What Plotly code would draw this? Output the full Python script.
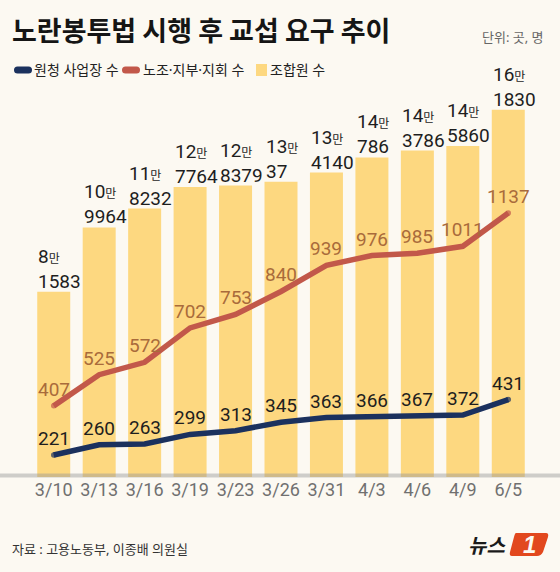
import plotly.graph_objects as go

# ---- data ----
dates = ["3/10", "3/13", "3/16", "3/19", "3/23", "3/26", "3/31", "4/3", "4/6", "4/9", "6/5"]
members = [81583, 109964, 118232, 127764, 128379, 130037, 134140, 140786, 143786, 145860, 161830]
unions = [407, 525, 572, 702, 753, 840, 939, 976, 985, 1011, 1137]
workplaces = [221, 260, 263, 299, 313, 345, 363, 366, 367, 372, 431]

title_text = "노란봉투법 시행 후 교섭 요구 추이"
unit_text = "단위: 곳, 명"
source_text = "자료 : 고용노동부, 이종배 의원실"
legend_names = ["원청 사업장 수", "노조·지부·지회 수", "조합원 수"]

# ---- style ----
W, H = 560, 572
ML, MR, MT, MB = 31, 29, 100, 95
PW, PH = W - ML - MR, H - MT - MB
BG = "#FCF9F2"
BAR = "#FDD880"
RED = "#C2584A"
NAVY = "#1B315E"
RED_TXT = "#A96B3B"
NARROW = "Liberation Sans Narrow, Arial Narrow, Roboto, sans-serif"
KR = "Noto Sans, Noto Sans CJK KR, sans-serif"
KRC = "Noto Sans CJK KR, Noto Sans, sans-serif"


def xp(px):
    return (px - ML) / PW


def yp(py):
    return (H - MB - py) / PH


idx = list(range(len(dates)))
BW = 0.726

fig = go.Figure()
fig.add_bar(x=idx, y=members, width=BW, marker=dict(color=BAR, line=dict(width=0)),
            hoverinfo="skip", showlegend=False)

n = len(idx)
ends = [5.5] + [0] * (n - 2) + [5.5]
fig.add_scatter(x=idx, y=unions, yaxis="y2", mode="lines+markers",
                line=dict(color=RED, width=5.5),
                marker=dict(size=ends, color=RED, line=dict(width=0)),
                hoverinfo="skip", showlegend=False)
fig.add_scatter(x=idx, y=workplaces, yaxis="y2", mode="lines+markers",
                line=dict(color=NAVY, width=5.5),
                marker=dict(size=ends, color=NAVY, line=dict(width=0)),
                hoverinfo="skip", showlegend=False)

ann = []
# bar labels
for i, v in zip(idx, members):
    man, rest = divmod(v, 10000)
    ann.append(dict(x=i - BW / 2 - 0.02, y=v, xref="x", yref="y", xanchor="left", yanchor="bottom",
                    align="left", showarrow=False, yshift=-3,
                    text=f"{man}<span style='font-size:12px;font-family:Noto Sans CJK KR'>만</span><br>{rest}",
                    font=dict(family=NARROW, size=19, color="#1e1e1e")))
# line labels
for i, v in zip(idx, unions):
    ann.append(dict(x=i, y=v, xref="x", yref="y2", xanchor="center", yanchor="bottom",
                    showarrow=False, yshift=3, text=str(v),
                    font=dict(family=NARROW, size=19, color=RED_TXT)))
for i, v in zip(idx, workplaces):
    ann.append(dict(x=i, y=v, xref="x", yref="y2", xanchor="center", yanchor="bottom",
                    showarrow=False, yshift=3, text=str(v),
                    font=dict(family=NARROW, size=19, color="#1e1e1e")))

# title, unit, legend, source, logo
ann.append(dict(x=xp(10), y=yp(30), xref="paper", yref="paper", xanchor="left", yanchor="middle",
                showarrow=False, text=f"<b>{title_text}</b>",
                font=dict(family=KRC, size=27, color="#151515")))
ann.append(dict(x=xp(546), y=yp(37), xref="paper", yref="paper", xanchor="right", yanchor="middle",
                showarrow=False, text=unit_text, font=dict(family=KR, size=13, color="#666666")))
leg_x = [32, 141, 268]
for lx, name in zip(leg_x, legend_names):
    ann.append(dict(x=xp(lx), y=yp(70), xref="paper", yref="paper", xanchor="left", yanchor="middle",
                    showarrow=False, text=name, font=dict(family=KR, size=14, color="#222222")))
ann.append(dict(x=xp(10), y=yp(549), xref="paper", yref="paper", xanchor="left", yanchor="middle",
                showarrow=False, text=source_text, font=dict(family=KR, size=13, color="#333333")))
ann.append(dict(x=xp(508), y=yp(544), xref="paper", yref="paper", xanchor="right", yanchor="middle",
                showarrow=False, text="<b><i>뉴스</i></b>", font=dict(family=KRC, size=20, color="#1a1a1a")))
ann.append(dict(x=xp(529), y=yp(544), xref="paper", yref="paper", xanchor="center", yanchor="middle",
                showarrow=False, text="<b><i>1</i></b>", font=dict(family="Liberation Sans", size=24, color="#FCF9F2")))


def pill(x0, x1, yc, h, color):
    r = h / 2
    return dict(type="path", xref="paper", yref="paper", layer="above",
                path=(f"M {xp(x0 + r)},{yp(yc - r)} L {xp(x1 - r)},{yp(yc - r)} "
                      f"Q {xp(x1)},{yp(yc - r)} {xp(x1)},{yp(yc)} Q {xp(x1)},{yp(yc + r)} {xp(x1 - r)},{yp(yc + r)} "
                      f"L {xp(x0 + r)},{yp(yc + r)} Q {xp(x0)},{yp(yc + r)} {xp(x0)},{yp(yc)} "
                      f"Q {xp(x0)},{yp(yc - r)} {xp(x0 + r)},{yp(yc - r)} Z"),
                fillcolor=color, line=dict(width=0))


shapes = [
    pill(14, 32, 70, 7, NAVY),
    pill(122, 140, 70, 7, RED),
    dict(type="rect", xref="paper", yref="paper", x0=xp(256), x1=xp(267), y0=yp(76), y1=yp(64),
         fillcolor=BAR, line=dict(width=0)),
    # baseline
    dict(type="line", xref="paper", yref="paper", x0=xp(0), x1=xp(W), y0=yp(475.5), y1=yp(475.5),
         line=dict(color="rgba(150,150,150,0.45)", width=4), layer="above"),
    # logo red shape
    dict(type="path", xref="paper", yref="paper", layer="above",
         path=(f"M {xp(516)},{yp(533)} L {xp(546)},{yp(533)} Q {xp(549)},{yp(533)} {xp(548)},{yp(537)} "
               f"L {xp(543)},{yp(552)} Q {xp(541)},{yp(556)} {xp(537)},{yp(556)} L {xp(512)},{yp(556)} "
               f"Q {xp(509)},{yp(556)} {xp(510)},{yp(552)} L {xp(514)},{yp(537)} Q {xp(515)},{yp(533)} {xp(516)},{yp(533)} Z"),
         fillcolor="#E2481E", line=dict(width=0)),
]

ZERO2_PX, SLOPE2 = 513.4, 0.2642
fig.update_layout(
    width=W, height=H, margin=dict(l=ML, r=MR, t=MT, b=MB),
    paper_bgcolor=BG, plot_bgcolor=BG, showlegend=False,
    annotations=ann, shapes=shapes,
    xaxis=dict(range=[-0.5, len(dates) - 0.5], tickmode="array", tickvals=idx, ticktext=dates,
               showgrid=False, zeroline=False, showline=False, ticks="",
               tickfont=dict(family=NARROW, size=18, color="#707070"),
               fixedrange=True),
    yaxis=dict(range=[0, PH / 0.00227], visible=False, fixedrange=True),
    yaxis2=dict(range=[(ZERO2_PX - (H - MB)) / SLOPE2, (ZERO2_PX - MT) / SLOPE2], overlaying="y",
                visible=False, fixedrange=True),
    bargap=0.27,
)

fig.write_html("out.html")
